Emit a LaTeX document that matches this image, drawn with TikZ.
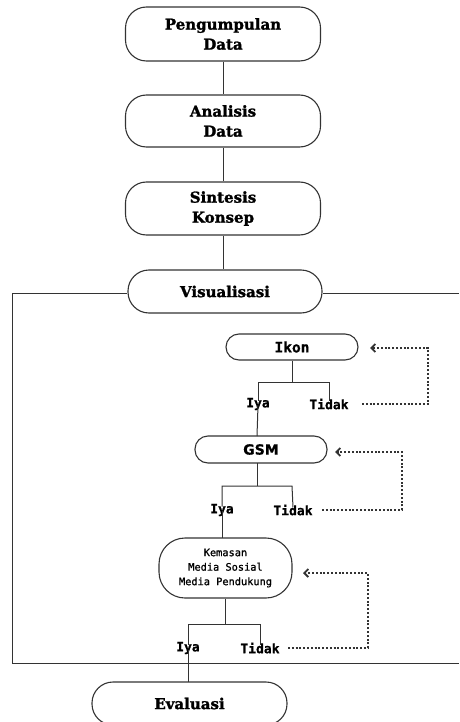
\documentclass[tikz,border=0pt]{standalone}
\usepackage{fontspec}
\usetikzlibrary{arrows.meta}
\newfontfamily\hf{DejaVu Serif}[BoldFeatures={FakeBold=1.6}]
\newfontfamily\mf{DejaVu Sans Mono}[BoldFeatures={FakeBold=0.8}]
\newfontfamily\kf{DejaVu Sans Mono}[FakeBold=1]
\newfontfamily\gsmfont{DejaVu Sans}[BoldFeatures={FakeBold=0.8}]
\definecolor{ln}{HTML}{333333}
\begin{document}
\begin{tikzpicture}[x=1pt,y=-1pt,
  bigbox/.style={draw=ln,line width=1.1pt,rectangle,rounded corners=21pt,minimum width=195pt,inner sep=0pt,align=center,font=\hf\bfseries\fontsize{15}{20}\selectfont},
  smallbox/.style={draw=ln,line width=1.1pt,rectangle,rounded corners=13pt,minimum width=132pt,minimum height=26pt,inner sep=0pt,align=center},
  lab/.style={inner sep=0pt,font=\mf\bfseries\fontsize{13}{14}\selectfont},
  conn/.style={draw=ln,line width=1pt},
  dots/.style={draw=ln,line width=2pt,dash pattern=on 2pt off 1.8pt},
  tip/.style={-{Straight Barb[length=4pt,width=8pt,line width=1.8pt]}}
]
\useasboundingbox (0,0) rectangle (459,722);

% main column
\node[bigbox,minimum height=54pt] (p) at (223,34) {Pengumpulan\\Data};
\node[bigbox,minimum height=52pt] (a) at (223,121) {Analisis\\Data};
\node[bigbox,minimum height=53pt] (s) at (223,208.5) {Sintesis\\Konsep};
\node[bigbox,minimum height=43pt,minimum width=194pt] (v) at (225,291.5) {Visualisasi};
\node[bigbox,minimum height=43pt] (e) at (189.5,703.5) {Evaluasi};

\draw[conn] (p.south) -- (p.south |- a.north);
\draw[conn] (a.south) -- (a.south |- s.north);
\draw[conn] (s.south) -- (s.south |- v.north);

% frame
\coordinate (fr1) at (459,293);
\coordinate (fl1) at (12,293);
\coordinate (fl2) at (12,663);
\coordinate (fr2) at (459,663);
\draw[conn] (v.west |- fl1) -- (fl1) -- (fl2) -- (fr2);
\draw[conn] (v.east |- fr1) -- (fr1);

% Ikon
\node[smallbox,font=\mf\bfseries\fontsize{14.5}{15}\selectfont] (ikon) at (292,347) {Ikon};
\node[lab] (iya1) at (258,404) {Iya};
\node[lab] (tid1) at (329,404) {Tidak};
\draw[conn] (ikon.south) -- (292,382);
\draw[conn] ([yshift=-3pt]iya1.north) -- (258,382) -- (329,382) -- ([yshift=-3pt]tid1.north);

% GSM
\node[smallbox,minimum height=27pt,font=\gsmfont\bfseries\fontsize{14}{15}\selectfont] (gsm) at (261,449.5) {GSM};
\draw[conn] ([yshift=5pt]iya1.south) -- (257,436);
\node[lab] (iya2) at (222,510) {Iya};
\node[lab] (tid2) at (293,510) {Tidak};
\draw[conn] (257,463) -- (257,486);
\draw[conn] ([yshift=-3pt]iya2.north) -- (222,486) -- (292,486) -- ([yshift=-3pt]tid2.north);

% Kemasan
\node[smallbox,minimum width=133pt,minimum height=60pt,rounded corners=26pt,font=\kf\fontsize{10.3}{14.5}\selectfont] (kem) at (225.5,568) {Kemasan\\Media Sosial\\Media Pendukung};
\draw[conn] ([yshift=5pt]iya2.south) -- (222,538);
\node[lab] (iya3) at (188,648) {Iya};
\node[lab] (tid3) at (260,648) {Tidak};
\draw[conn] (kem.south) -- (225.5,624);
\draw[conn] ([yshift=-3pt]iya3.north) -- (188,624) -- (260,624) -- ([yshift=-3pt]tid3.north);
\draw[conn] ([yshift=4pt]iya3.south) -- (188,682);

% dotted feedback
\coordinate (d1) at (428,404);
\coordinate (d1t) at (428,348);
\coordinate (a1) at (370,348);
\draw[dots,tip] (362,404) -- (d1) -- (d1t) -- (a1);
\coordinate (d2) at (402,510);
\coordinate (d2t) at (402,452);
\coordinate (a2) at (335,452);
\draw[dots,tip] (322,510) -- (d2) -- (d2t) -- (a2);
\coordinate (d3) at (368,648);
\coordinate (d3t) at (368,573);
\coordinate (a3) at (303,573);
\draw[dots,tip] (288,648) -- (d3) -- (d3t) -- (a3);
\end{tikzpicture}
\end{document}
